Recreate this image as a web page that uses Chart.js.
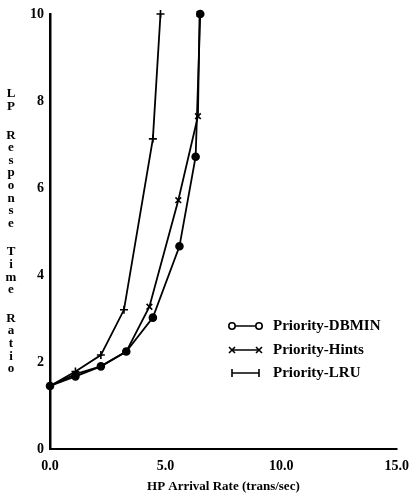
<!DOCTYPE html>
<html>
<head>
<meta charset="utf-8">
<script src="https://cdn.jsdelivr.net/npm/chart.js@4/dist/chart.umd.min.js"></script>
<style>
html,body{margin:0;padding:0;background:#fff;}
#wrap{position:relative;width:414px;height:494px;}
</style>
</head>
<body>
<div id="wrap"><canvas id="c" width="414" height="494"></canvas></div>
<script>
const xTickLabels = ["0.0", "5.0", "10.0", "15.0"];
const yTickLabels = ["0", "2", "4", "6", "8", "10"];
const seriesNames = ["Priority-DBMIN", "Priority-Hints", "Priority-LRU"];

const dbminX = [0, 1.1, 2.2, 3.3, 4.45, 5.6, 6.3, 6.5];
const dbminY = [1.45, 1.67, 1.9, 2.24, 3.02, 4.66, 6.72, 10];
const hintsX = [0, 1.1, 2.2, 3.3, 4.3, 5.55, 6.4, 6.47];
const hintsY = [1.45, 1.72, 1.9, 2.24, 3.27, 5.72, 7.65, 10];
const lruX = [0, 1.1, 2.2, 3.2, 4.45, 4.78];
const lruY = [1.45, 1.78, 2.16, 3.2, 7.13, 10];

const yTitle = "LP Response Time Ratio";
const xTitle = "HP Arrival Rate (trans/sec)";

const SERIF = '"Liberation Serif", "DejaVu Serif", serif';

function pts(xs, ys) { return xs.map((x, i) => ({x: x, y: ys[i]})); }

const markerStyles = ['circle', 'crossRot', 'cross'];

const legendPlugin = {
  id: 'customLegend',
  afterDraw(chart) {
    const ctx = chart.ctx;
    ctx.save();
    const ys = [326, 350, 373];
    const x0 = 232, x1 = 259, tx = 273;
    for (let i = 0; i < 3; i++) {
      const y = ys[i];
      ctx.strokeStyle = '#000';
      ctx.lineWidth = 1.5;
      ctx.beginPath(); ctx.moveTo(x0, y); ctx.lineTo(x1, y); ctx.stroke();
      [x0, x1].forEach(px => {
        ctx.lineWidth = 1.6;
        if (i === 0) {
          ctx.fillStyle = '#fff';
          ctx.beginPath(); ctx.arc(px, y, 3.2, 0, Math.PI * 2); ctx.fill(); ctx.stroke();
        } else if (i === 1) {
          ctx.beginPath();
          ctx.moveTo(px - 3, y - 3); ctx.lineTo(px + 3, y + 3);
          ctx.moveTo(px - 3, y + 3); ctx.lineTo(px + 3, y - 3);
          ctx.stroke();
        } else {
          ctx.beginPath();
          ctx.moveTo(px, y - 4); ctx.lineTo(px, y + 4);
          ctx.stroke();
        }
      });
      ctx.fillStyle = '#000';
      ctx.font = 'bold 15px ' + SERIF;
      ctx.textAlign = 'left';
      ctx.textBaseline = 'middle';
      ctx.fillText(seriesNames[i], tx, y);
    }
    // vertical stacked y title
    ctx.font = 'bold 13px ' + SERIF;
    ctx.textAlign = 'center';
    ctx.textBaseline = 'middle';
    let yy = 94;
    for (const ch of yTitle) {
      if (ch === ' ') { yy += 16; continue; }
      ctx.fillText(ch, 11, yy);
      yy += 12.6;
    }
    ctx.restore();
  }
};

const common = {
  borderColor: '#000',
  backgroundColor: '#000',
  borderWidth: 1.8,
  pointBorderColor: '#000',
  pointBackgroundColor: '#000',
  pointBorderWidth: 1.6,
  tension: 0,
  clip: false
};

new Chart(document.getElementById('c'), {
  type: 'line',
  data: {
    datasets: [
      Object.assign({label: seriesNames[0], data: pts(dbminX, dbminY), pointStyle: markerStyles[0], pointRadius: 3.5}, common),
      Object.assign({label: seriesNames[1], data: pts(hintsX, hintsY), pointStyle: markerStyles[1], pointRadius: 4}, common),
      Object.assign({label: seriesNames[2], data: pts(lruX, lruY), pointStyle: markerStyles[2], pointRadius: 4}, common)
    ]
  },
  options: {
    responsive: false,
    animation: false,
    layout: {padding: {top: 14, right: 16, left: 0, bottom: 0}},
    plugins: {legend: {display: false}, tooltip: {enabled: false}},
    scales: {
      x: {
        type: 'linear',
        min: 0, max: 15,
        border: {color: '#000', width: 2},
        grid: {display: false, drawOnChartArea: false, drawTicks: true, tickLength: 4, color: '#000', lineWidth: 1.5},
        afterBuildTicks(scale) { scale.ticks = xTickLabels.map(v => ({value: parseFloat(v)})); },
        ticks: {
          color: '#000',
          font: {family: SERIF, size: 14, weight: 'bold'},
          padding: 5,
          maxRotation: 0,
          callback: (v) => xTickLabels.find(t => parseFloat(t) === v) || ''
        },
        title: {display: true, text: xTitle, color: '#000', font: {family: SERIF, size: 13, weight: 'bold'}, padding: {top: -2, bottom: 0}},
        afterFit(scale) { scale.height = 45; }
      },
      y: {
        type: 'linear',
        min: 0, max: 10,
        border: {color: '#000', width: 2.5},
        grid: {display: false, drawOnChartArea: false, drawTicks: true, tickLength: 4, color: '#000', lineWidth: 1.5},
        afterBuildTicks(scale) { scale.ticks = yTickLabels.map(v => ({value: parseFloat(v)})); },
        ticks: {
          color: '#000',
          font: {family: SERIF, size: 14, weight: 'bold'},
          padding: 2,
          callback: (v) => yTickLabels.find(t => parseFloat(t) === v) || ''
        },
        afterFit(scale) { scale.width = 50; }
      }
    }
  },
  plugins: [legendPlugin]
});
</script>
</body>
</html>
